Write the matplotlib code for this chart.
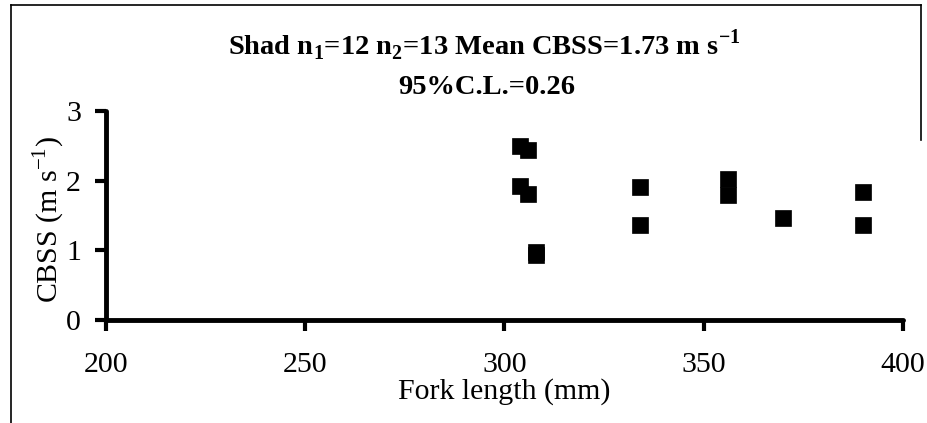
import matplotlib
matplotlib.use("Agg")
import matplotlib.pyplot as plt
from matplotlib.lines import Line2D

plt.rcParams['font.family'] = ['Liberation Serif', 'DejaVu Serif']
plt.rcParams['mathtext.fontset'] = 'custom'
plt.rcParams['mathtext.rm'] = 'Liberation Serif'
plt.rcParams['mathtext.bf'] = 'Liberation Serif:bold'

fork_length = [304, 304, 306, 306, 308, 308, 334, 334, 356, 356, 370, 390, 390]
cbss = [2.50, 1.92, 2.44, 1.81, 0.98, 0.93, 1.91, 1.36, 2.03, 1.79, 1.47, 1.84, 1.37]
x_ticks = [200, 250, 300, 350, 400]
y_ticks = [0, 1, 2, 3]

W, H = 928, 423
fig = plt.figure(figsize=(W / 100, H / 100), dpi=100)
ax_l, ax_r, ax_b, ax_t = 106, 903, 320, 111
ax = fig.add_axes([ax_l / W, 1 - ax_b / H, (ax_r - ax_l) / W, (ax_b - ax_t) / H])

ax.plot(fork_length, cbss, linestyle='none', marker='s', markersize=11,
        color='black', markeredgewidth=0.5)

ax.set_xlim(200, 400)
ax.set_ylim(0, 3)
ax.set_xticks(x_ticks)
ax.set_yticks(y_ticks)
for s in ['top', 'right']:
    ax.spines[s].set_visible(False)
for s in ['left', 'bottom']:
    ax.spines[s].set_linewidth(3.5)
    ax.spines[s].set_capstyle('round')
ax.tick_params(axis='both', width=3, length=8, labelsize=21.5, direction='out')
ax.tick_params(axis='x', pad=15)
ax.tick_params(axis='y', pad=10)
ax.set_xlabel('Fork length (mm)', fontsize=21.5, va='center')
ax.xaxis.set_label_coords(0.5, (ax_b - 392) / (ax_b - ax_t))
ax.set_ylabel(r'CBSS (m s$^{\mathregular{-1}}$)', fontsize=21.5, va='center')
ax.yaxis.set_label_coords((49 - ax_l) / (ax_r - ax_l), 0.48)

fig.text(0.522, 1 - 45 / H,
         r'Shad n$_{\mathbf{1}}$=12 n$_{\mathbf{2}}$=13 Mean CBSS=1.73 m s$^{\mathbf{-1}}$',
         ha='center', va='center', fontsize=20.5, fontweight='bold')
fig.text(0.524, 1 - 88 / H, '95%C.L.=0.26', ha='center', va='center',
         fontsize=20.5, fontweight='bold')

# figure border
bx0, bx1, by0 = 11 / W, 921 / W, 1 - 5 / H
fig.add_artist(Line2D([bx0, bx0], [0, by0], color='black', lw=1.2, transform=fig.transFigure))
fig.add_artist(Line2D([bx0, bx1], [by0, by0], color='black', lw=1.2, transform=fig.transFigure))
fig.add_artist(Line2D([bx1, bx1], [by0, 1 - 140 / H], color='black', lw=1.2, transform=fig.transFigure))

fig.savefig('out.png', dpi=100)
